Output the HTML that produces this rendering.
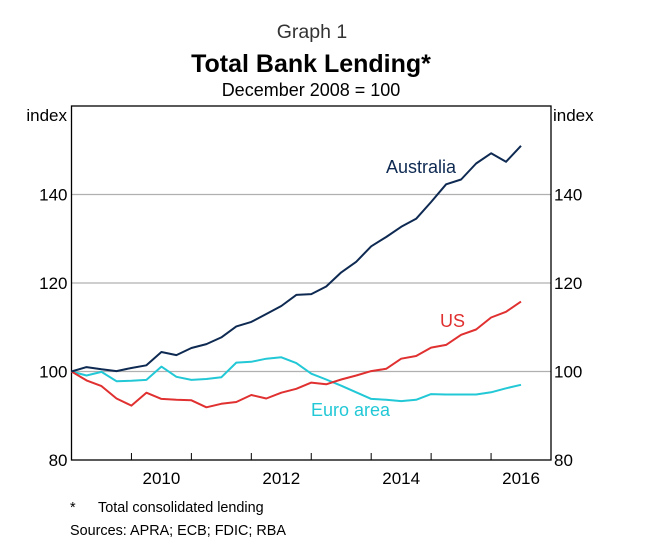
<!DOCTYPE html>
<html><head><meta charset="utf-8"><style>
html,body{margin:0;padding:0;background:#fff;}
svg{display:block;font-family:"Liberation Sans",Arial,sans-serif;}
</style></head><body>
<svg id="chart" width="656" height="553" viewBox="0 0 656 553">
<text x="312" y="38" text-anchor="middle" font-size="19.5" fill="#333">Graph 1</text>
<text x="311" y="72" text-anchor="middle" font-size="25" font-weight="bold" fill="#000">Total Bank Lending*</text>
<text x="311" y="96" text-anchor="middle" font-size="18" fill="#000">December 2008 = 100</text>
<text x="67" y="121" text-anchor="end" font-size="17">index</text>
<text x="553" y="121" font-size="17">index</text>
<g id="grid"></g>
<g id="axes"></g>
<g id="series"></g>
<text x="386" y="173" font-size="18" fill="#0e2a52">Australia</text>
<text x="440" y="327" font-size="18" fill="#e03030">US</text>
<text x="311" y="416" font-size="18" fill="#22c8d6">Euro area</text>
<text x="70" y="512" font-size="14.4">*</text>
<text x="98" y="512" font-size="14.4">Total consolidated lending</text>
<text x="70" y="535" font-size="14.4">Sources:   APRA; ECB; FDIC; RBA</text>
</svg>
<script>
const yTicks = [80, 100, 120, 140];
const xLabels = ["2010", "2012", "2014", "2016"];
const xTickYears = [2010, 2011, 2012, 2013, 2014, 2015, 2016];
const australia = [100,101.0,100.5,100.1,100.8,101.4,104.4,103.7,105.3,106.2,107.7,110.2,111.2,113.0,114.8,117.3,117.5,119.2,122.4,124.8,128.3,130.4,132.7,134.5,138.3,142.3,143.4,147.0,149.3,147.4,151.0];
const us = [100,98.0,96.7,93.9,92.3,95.2,93.8,93.6,93.5,91.9,92.7,93.1,94.7,93.9,95.2,96.1,97.5,97.1,98.2,99.1,100.1,100.6,102.9,103.5,105.4,106.0,108.3,109.5,112.2,113.5,115.8];
const euro = [100,99.1,99.9,97.8,97.9,98.1,101.1,98.8,98.1,98.3,98.7,102.0,102.2,102.9,103.2,101.9,99.5,98.2,96.8,95.3,93.8,93.6,93.3,93.6,94.9,94.8,94.8,94.8,95.3,96.2,97.0];
const startYear = 2009.0;

const L = 71.5, R = 551, T = 106, B = 460;
const yMin = 80, yMax = 160, xMin = 2009, xMax = 2017;
function yS(v){ return B - (v - yMin) / (yMax - yMin) * (B - T); }
function xS(t){ return L + (t - xMin) / (xMax - xMin) * (R - L); }
const NS = "http://www.w3.org/2000/svg";
function mk(tag, attrs, parent){
  const e = document.createElementNS(NS, tag);
  for (const k in attrs) e.setAttribute(k, attrs[k]);
  parent.appendChild(e); return e;
}
const grid = document.getElementById('grid');
const axes = document.getElementById('axes');
const series = document.getElementById('series');
yTicks.forEach(v => {
  if (v > yMin) {
    const g = mk('line', {x1:L, x2:R, y1:yS(v), y2:yS(v), stroke:'#b0b0b0', 'stroke-width':1.2}, grid);
    
    
  }
  const tl = mk('text', {x:L-4, y:yS(v)+6, 'text-anchor':'end', 'font-size':17}, axes);
  tl.textContent = v;
  
  
  const tr = mk('text', {x:R+3, y:yS(v)+6, 'font-size':17}, axes);
  tr.textContent = v;
  
  
});
xTickYears.forEach(y => {
  const t = mk('line', {x1:xS(y), x2:xS(y), y1:B, y2:B-7, stroke:'#000', 'stroke-width':1}, axes);
  
  
});
xLabels.forEach(s => {
  const t = mk('text', {x:xS(+s + 0.5), y:B+24, 'text-anchor':'middle', 'font-size':17}, axes);
  t.textContent = s;
  
  
});
const frame = mk('rect', {x:L, y:T, width:R-L, height:B-T, fill:'none', stroke:'#000', 'stroke-width':1.3}, axes);


function drawLine(arr, color, name){
  const pts = arr.map((v,i) => xS(startYear + i*0.25).toFixed(1) + ',' + yS(v).toFixed(1)).join(' ');
  const p = mk('polyline', {points:pts, fill:'none', stroke:color, 'stroke-width':2, 'stroke-linejoin':'round'}, series);
  
  
}
drawLine(euro, '#22c8d6', 'line-euro-area');
drawLine(us, '#e03030', 'line-us');
drawLine(australia, '#0e2a52', 'line-australia');
</script>
</body></html>
